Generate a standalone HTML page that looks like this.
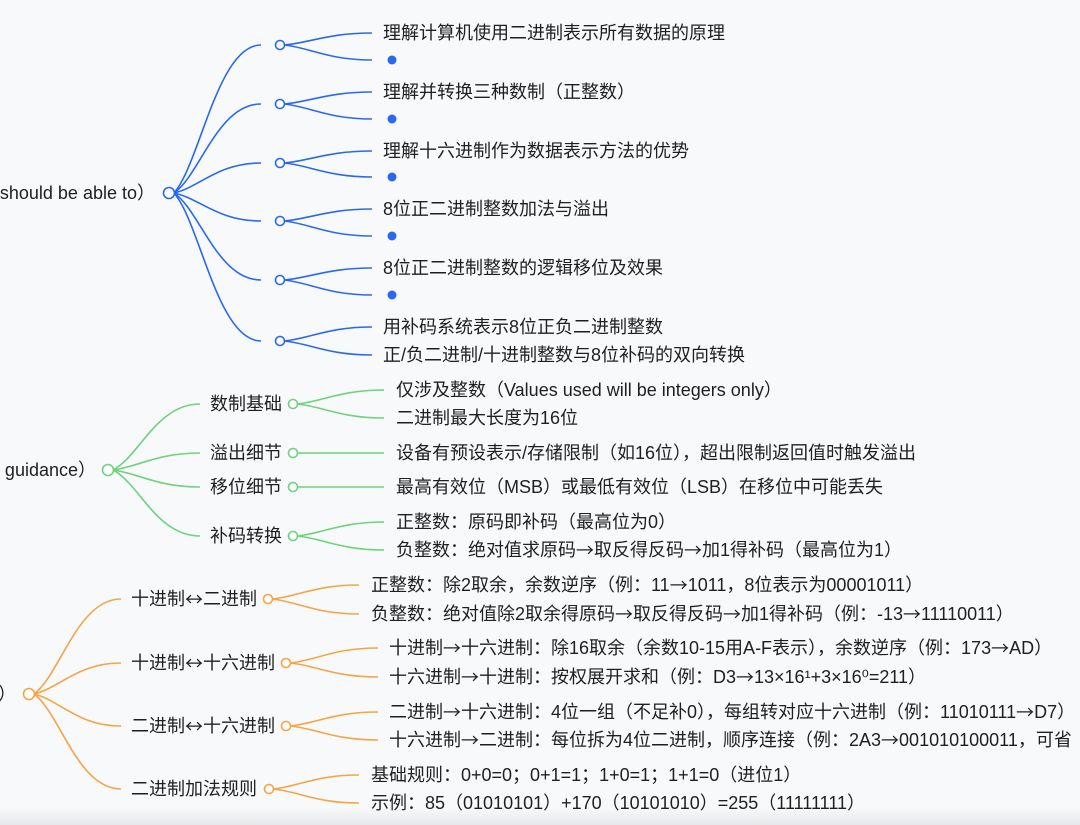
<!DOCTYPE html>
<html><head><meta charset="utf-8"><style>
html,body{margin:0;padding:0;background:#f8f9fb;}
svg{display:block}
text{font-family:"Liberation Sans","Noto Sans CJK SC",sans-serif;font-size:18px;fill:#1f1f1f;dominant-baseline:central}
.a{font-family:"Noto Sans CJK SC",sans-serif}
</style></head><body>
<svg id="s" width="1080" height="825" viewBox="0 0 1080 825" xmlns="http://www.w3.org/2000/svg">
<defs><linearGradient id="g" x1="0" y1="0" x2="0" y2="1"><stop offset="0" stop-color="#f8f9fb"/><stop offset="1" stop-color="#e6e7ea"/></linearGradient></defs>
<rect width="1080" height="825" fill="#f8f9fb"/>
<rect y="808" width="1080" height="17" fill="url(#g)"/>
<g id="paths" fill="none" stroke-width="1.6"></g>
<g id="circ"></g>
<!-- blue -->
<text x="155" y="193" text-anchor="end">Students should be able to）</text>
<text x="383" y="33">理解计算机使用二进制表示所有数据的原理</text>
<text x="383" y="92">理解并转换三种数制（正整数）</text>
<text x="383" y="151">理解十六进制作为数据表示方法的优势</text>
<text x="383" y="209">8位正二进制整数加法与溢出</text>
<text x="383" y="268">8位正二进制整数的逻辑移位及效果</text>
<text x="383" y="327">用补码系统表示8位正负二进制整数</text>
<text x="383" y="355">正/负二进制/十进制整数与8位补码的双向转换</text>
<!-- green -->
<text x="96" y="470" text-anchor="end">Teacher guidance）</text>
<text x="210" y="404">数制基础</text>
<text x="210" y="453">溢出细节</text>
<text x="210" y="487">移位细节</text>
<text x="210" y="536">补码转换</text>
<text x="396" y="390">仅涉及整数（Values used will be integers only）</text>
<text x="396" y="418">二进制最大长度为16位</text>
<text x="396" y="453">设备有预设表示/存储限制（如16位），超出限制返回值时触发溢出</text>
<text x="396" y="487">最高有效位（MSB）或最低有效位（LSB）在移位中可能丢失</text>
<text x="396" y="522">正整数：原码即补码（最高位为0）</text>
<text x="396" y="550">负整数：绝对值求原码<tspan class="a">→</tspan>取反得反码<tspan class="a">→</tspan>加1得补码（最高位为1）</text>
<!-- orange -->
<text x="16" y="694" text-anchor="end">转换）</text>
<text x="131" y="599">十进制<tspan class="a">↔</tspan>二进制</text>
<text x="131" y="663">十进制<tspan class="a">↔</tspan>十六进制</text>
<text x="131" y="726">二进制<tspan class="a">↔</tspan>十六进制</text>
<text x="131" y="789">二进制加法规则</text>
<text x="371" y="585">正整数：除2取余，余数逆序（例：11<tspan class="a">→</tspan>1011，8位表示为00001011）</text>
<text x="371" y="614">负整数：绝对值除2取余得原码<tspan class="a">→</tspan>取反得反码<tspan class="a">→</tspan>加1得补码（例：-13<tspan class="a">→</tspan>11110011）</text>
<text x="389" y="648">十进制<tspan class="a">→</tspan>十六进制：除16取余（余数10-15用A-F表示），余数逆序（例：173<tspan class="a">→</tspan>AD）</text>
<text x="389" y="677">十六进制<tspan class="a">→</tspan>十进制：按权展开求和（例：D3<tspan class="a">→</tspan>13×16¹+3×16⁰=211）</text>
<text x="389" y="712">二进制<tspan class="a">→</tspan>十六进制：4位一组（不足补0），每组转对应十六进制（例：11010111<tspan class="a">→</tspan>D7）</text>
<text x="389" y="740">十六进制<tspan class="a">→</tspan>二进制：每位拆为4位二进制，顺序连接（例：2A3<tspan class="a">→</tspan>001010100011，可省</text>
<text x="371" y="775">基础规则：0+0=0；0+1=1；1+0=1；1+1=0（进位1）</text>
<text x="371" y="803">示例：85（01010101）+170（10101010）=255（11111111）</text>
</svg>
<script>
var P=document.getElementById('paths'),C=document.getElementById('circ'),NS='http://www.w3.org/2000/svg';
function path(x0,y0,x1,y1,c){var dx=x1-x0,dy=y1-y0;var e=document.createElementNS(NS,'path');
e.setAttribute('d','M'+x0+' '+y0+' C'+(x0+dx*0.3)+' '+(y0+dy*0.2)+','+(x0+dx*0.5)+' '+y1+','+x1+' '+y1);e.setAttribute('stroke',c);P.appendChild(e);}
function circ(x,y,c,fill,r){var e=document.createElementNS(NS,'circle');e.setAttribute('cx',x);e.setAttribute('cy',y);e.setAttribute('r',r||4.5);
e.setAttribute('fill',fill?c:'#fff');e.setAttribute('stroke',c);e.setAttribute('stroke-width',fill?0:1.6);C.appendChild(e);}
var B='#2a68f0',G='#6fd27c',O='#f6a445';
var bn=[45,104,163,221,280,341],bc=[[33,60],[92,119],[151,177],[209,236],[268,295],[327,355]];
circ(169,193,B,false,5.5);
bn.forEach(function(y,i){path(174,193,261,y,B);circ(280,y,B);
 bc[i].forEach(function(cy){path(284.5,y,372,cy,B);});
 if(i<5)circ(392,bc[i][1],B,true,4.5);});
var gn=[404,453,487,536],gc=[[390,418],[453],[487],[522,550]];
circ(108,470,G,false,5.5);
gn.forEach(function(y,i){path(113,470,200,y,G);circ(293,y,G);
 gc[i].forEach(function(cy){path(297.5,y,384,cy,G);});});
var on=[599,663,726,789],ox=[268,286,286,269],oe=[359,378,378,359],oc=[[585,614],[648,677],[712,740],[775,803]];
circ(29,694,O,false,5.5);
on.forEach(function(y,i){path(34,694,121,y,O);circ(ox[i],y,O);
 oc[i].forEach(function(cy){path(ox[i]+4.5,y,oe[i],cy,O);});});
</script>
</body></html>
